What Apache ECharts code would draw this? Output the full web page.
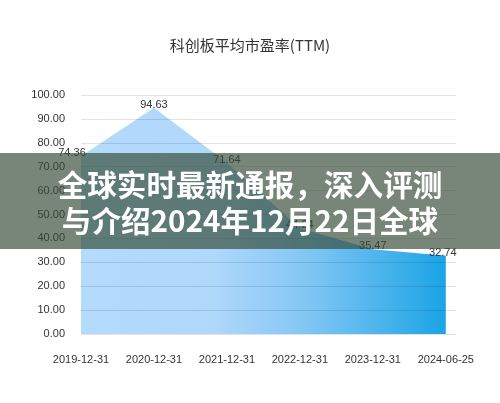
<!DOCTYPE html>
<html>
<head>
<meta charset="utf-8">
<script src="https://cdn.jsdelivr.net/npm/echarts@6/dist/echarts.min.js"></script>
<style>
  html, body { margin: 0; padding: 0; background: #fff; }
  #chart { width: 500px; height: 403px; }
</style>
</head>
<body>
<div id="chart"></div>
<script>
// 科创板平均市盈率(TTM)
const categories = ['2019-12-31', '2020-12-31', '2021-12-31', '2022-12-31', '2023-12-31', '2024-06-25'];
const peValues = [74.36, 94.63, 71.64, 44.24, 35.47, 32.74];
const yTicks = { min: 0, max: 100, step: 10 };
const bannerLines = ['全球实时最新通报，深入评测', '与介绍2024年12月22日全球'];

const chart = echarts.init(document.getElementById('chart'), null, { renderer: 'canvas' });

// first label is nudged left so it stays clear of the plot edge
const points = categories.map((c, i) => {
  const item = { value: [i, peValues[i]] };
  if (i === 0) item.label = { offset: [-9, 0] };
  if (i === categories.length - 1) item.label = { offset: [-3, 0] };
  return item;
});
const labelFont = 'Liberation Sans, Arial, sans-serif';

chart.setOption({
  animation: false,
  backgroundColor: '#ffffff',
  title: {
    text: '科创板平均市盈率(TTM)',
    left: 'center',
    top: 33,
    textStyle: {
      fontFamily: '"Noto Sans CJK SC", "Noto Sans", sans-serif',
      fontSize: 15,
      fontWeight: 'normal',
      color: '#333333'
    }
  },
  grid: { left: 81, right: 44, top: 95, bottom: 69, containLabel: false },
  xAxis: {
    type: 'value',
    min: 0,
    max: 5.14,
    interval: 1,
    axisLine: { show: false },
    axisTick: { show: false },
    splitLine: { show: false },
    axisLabel: {
      margin: 20,
      fontFamily: labelFont,
      fontSize: 11,
      color: '#333333',
      formatter: v => (Number.isInteger(v) && categories[v]) ? categories[v] : ''
    }
  },
  yAxis: {
    type: 'value',
    min: yTicks.min,
    max: yTicks.max,
    interval: yTicks.step,
    z: 5,
    axisLine: { show: false },
    axisTick: { show: false },
    splitLine: { lineStyle: { color: 'rgba(0,0,0,0.11)', width: 1 } },
    axisLabel: {
      margin: 16,
      fontFamily: labelFont,
      fontSize: 11,
      color: '#333333',
      formatter: v => v.toFixed(2)
    }
  },
  series: [{
    type: 'line',
    data: points,
    symbol: 'circle',
    symbolSize: 1,
    showSymbol: true,
    itemStyle: { color: 'rgba(0,0,0,0)', borderWidth: 0 },
    lineStyle: { width: 0 },
    z: 2,
    areaStyle: {
      opacity: 1,
      color: new echarts.graphic.LinearGradient(0, 0, 1, 0, [
        { offset: 0, color: '#b4dafc' },
        { offset: 0.36, color: '#b0d8fb' },
        { offset: 0.61, color: '#84c7f5' },
        { offset: 1, color: '#1ba4e6' }
      ])
    },
    label: {
      show: true,
      position: 'top',
      distance: -3,
      fontFamily: labelFont,
      fontSize: 11,
      color: '#333333',
      formatter: p => p.value[1].toFixed(2)
    }
  }],
  graphic: [
    {
      type: 'rect',
      z: 100,
      shape: { x: 0, y: 153, width: 500, height: 96 },
      style: { fill: 'rgba(52,74,54,0.67)' }
    },
    {
      type: 'text',
      z: 101,
      x: 250,
      y: 185,
      style: {
        text: bannerLines[0],
        fill: '#ffffff',
        fontFamily: '"Noto Sans CJK SC", sans-serif',
        fontWeight: 'bold',
        fontSize: 29.6,
        textAlign: 'center',
        textVerticalAlign: 'middle'
      }
    },
    {
      type: 'text',
      z: 101,
      x: 250,
      y: 221,
      style: {
        text: bannerLines[1],
        fill: '#ffffff',
        fontFamily: '"Noto Sans CJK SC", sans-serif',
        fontWeight: 'bold',
        fontSize: 29.6,
        textAlign: 'center',
        textVerticalAlign: 'middle'
      }
    }
  ]
});
</script>
</body>
</html>
